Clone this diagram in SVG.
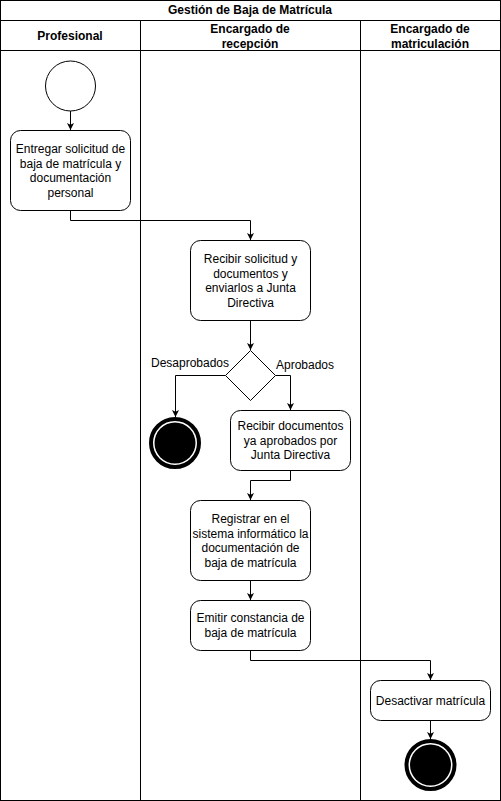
<svg xmlns="http://www.w3.org/2000/svg" width="501" height="801" viewBox="0 0 501 801">
<style>
.ln{fill:none;stroke:#000;stroke-width:1}
.box{fill:#fff;stroke:#000;stroke-width:1}
.t{font-family:"Liberation Sans",Arial,sans-serif;font-size:12px;fill:#000;text-anchor:middle}
.b{font-weight:bold}
.con{fill:none;stroke:#000;stroke-width:1;marker-end:url(#arr)}
.endo{fill:#fff;stroke:#000;stroke-width:4}
.endi{fill:#000}
</style>
<defs>
<marker id="arr" viewBox="0 0 10 10" refX="10" refY="5" markerWidth="7" markerHeight="7" markerUnits="userSpaceOnUse" orient="auto">
<path d="M0,0 L10,5 L0,10 L2.5,5 Z" fill="#000"/>
</marker>
</defs>
<rect width="501" height="801" fill="#fff"/>
<g id="pool">
<rect class="box" x="0.5" y="0.5" width="500" height="800"/>
<line class="ln" x1="0.5" y1="20.5" x2="500.5" y2="20.5"/>
<line class="ln" x1="0.5" y1="50.5" x2="500.5" y2="50.5"/>
<line class="ln" x1="140.5" y1="20.5" x2="140.5" y2="800.5"/>
<line class="ln" x1="360.5" y1="20.5" x2="360.5" y2="800.5"/>
<text class="t b" x="250" y="14">Gestión de Baja de Matrícula</text>
<text class="t b" x="70" y="39.5">Profesional</text>
<text class="t b" x="250" y="32.5">Encargado de</text>
<text class="t b" x="250" y="47.5">recepción</text>
<text class="t b" x="430" y="32.5">Encargado de</text>
<text class="t b" x="430" y="47.5">matriculación</text>
</g>
<g id="connectors">
<path class="con" d="M70.5,111 L70.5,130"/>
<path class="con" d="M70.5,210 L70.5,220.5 L250.5,220.5 L250.5,240"/>
<path class="con" d="M250.5,320 L250.5,350"/>
<path class="con" d="M225.5,375.5 L175.5,375.5 L175.5,417"/>
<path class="con" d="M275.5,375.5 L290.5,375.5 L290.5,410"/>
<path class="con" d="M290.5,470 L290.5,480.5 L250.5,480.5 L250.5,500"/>
<path class="con" d="M250.5,580 L250.5,600"/>
<path class="con" d="M250.5,650 L250.5,660.5 L430.5,660.5 L430.5,680"/>
<path class="con" d="M430.5,720 L430.5,739"/>
<text class="t" x="190" y="367">Desaprobados</text>
<text class="t" x="305" y="369">Aprobados</text>
</g>
<g id="start">
<circle class="box" cx="70.5" cy="86" r="25"/>
</g>
<g id="n1">
<rect class="box" x="10.5" y="130.5" width="120" height="80" rx="10"/>
<text class="t" x="70.5" y="153">Entregar solicitud de</text>
<text class="t" x="70.5" y="167.5">baja de matrícula y</text>
<text class="t" x="70.5" y="182">documentación</text>
<text class="t" x="70.5" y="196.5">personal</text>
</g>
<g id="n2">
<rect class="box" x="190.5" y="240.5" width="120" height="80" rx="10"/>
<text class="t" x="250.5" y="263">Recibir solicitud y</text>
<text class="t" x="250.5" y="277.5">documentos y</text>
<text class="t" x="250.5" y="292">enviarlos a Junta</text>
<text class="t" x="250.5" y="306.5">Directiva</text>
</g>
<g id="decision">
<path class="box" d="M250.5,350.5 L275.5,375.5 L250.5,400.5 L225.5,375.5 Z"/>
</g>
<g id="end1">
<circle class="endo" cx="175" cy="443" r="24"/>
<circle class="endi" cx="175" cy="443" r="20.5"/>
</g>
<g id="n3">
<rect class="box" x="230.5" y="410.5" width="120" height="60" rx="10"/>
<text class="t" x="290.5" y="430">Recibir documentos</text>
<text class="t" x="290.5" y="444.5">ya aprobados por</text>
<text class="t" x="290.5" y="459">Junta Directiva</text>
</g>
<g id="n4">
<rect class="box" x="190.5" y="500.5" width="120" height="80" rx="10"/>
<text class="t" x="250.5" y="523">Registrar en el</text>
<text class="t" x="250.5" y="537.5">sistema informático la</text>
<text class="t" x="250.5" y="552">documentación de</text>
<text class="t" x="250.5" y="566.5">baja de matrícula</text>
</g>
<g id="n5">
<rect class="box" x="190.5" y="600.5" width="120" height="50" rx="10"/>
<text class="t" x="250.5" y="622">Emitir constancia de</text>
<text class="t" x="250.5" y="636.5">baja de matrícula</text>
</g>
<g id="n6">
<rect class="box" x="370.5" y="680.5" width="120" height="40" rx="10"/>
<text class="t" x="430.5" y="704.5">Desactivar matrícula</text>
</g>
<g id="end2">
<circle class="endo" cx="430.5" cy="765" r="24"/>
<circle class="endi" cx="430.5" cy="765" r="20.5"/>
</g>
</svg>
